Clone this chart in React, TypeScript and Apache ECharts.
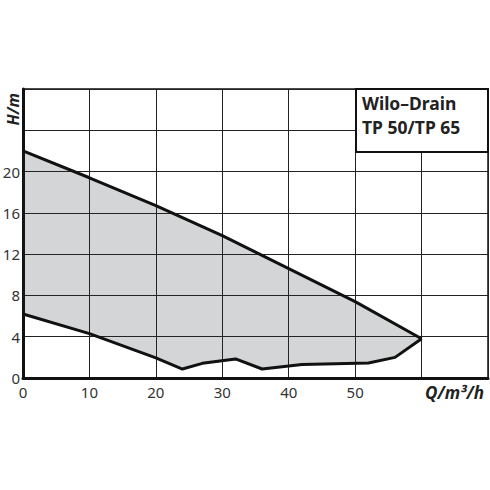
import React, { useEffect, useRef } from "react";
import * as echarts from "echarts";

const upperQ = [0, 10, 20, 30, 40, 50, 60];
const upperH = [22, 19.4, 16.7, 13.8, 10.6, 7.4, 3.8];
const lowerQ = [0, 10, 20, 24, 27, 32, 36, 42, 52, 56, 60];
const lowerH = [6.2, 4.3, 1.95, 0.87, 1.42, 1.85, 0.87, 1.3, 1.45, 2.0, 3.8];
const xTicks = [0, 10, 20, 30, 40, 50];
const yTicks = [0, 4, 8, 12, 16, 20];
const titleLines = ["Wilo–Drain", "TP 50/TP 65"];

const FONT = "Noto Sans";

export default function App() {
  const ref = useRef<HTMLDivElement>(null);
  useEffect(() => {
    if (!ref.current) return;
    const chart = echarts.init(ref.current, null, { renderer: "svg" });
    const upper = upperQ.map((q, i) => [q, upperH[i]]);
    const lower = lowerQ.map((q, i) => [q, lowerH[i]]);
    const polygon = upper.concat(lower.slice().reverse());
    chart.setOption({
      animation: false,
      grid: {
        left: 23,
        right: 2,
        top: 89,
        bottom: 112,
        show: true,
        borderColor: "#111",
        borderWidth: 1.5,
        containLabel: false,
        outerBoundsMode: "none",
      },
      xAxis: {
        type: "value",
        min: 0,
        max: 70,
        interval: 10,
        name: "Q/m³/h",
        nameLocation: "end",
        nameGap: 0,
        nameTextStyle: {
          fontFamily: FONT,
          fontWeight: "bold",
          fontStyle: "italic",
          fontSize: 17,
          color: "#222",
          align: "right",
          verticalAlign: "top",
          padding: [6, 4, 0, 0],
        },
        axisLine: { show: true, lineStyle: { color: "#111", width: 3 } },
        axisTick: { show: false },
        splitLine: { show: true, lineStyle: { color: "#222", width: 1 } },
        axisLabel: {
          fontFamily: FONT,
          fontSize: 15,
          color: "#333",
          margin: 6,
          formatter: (v: number) => (xTicks.includes(v) ? String(v) : ""),
        },
      },
      yAxis: {
        type: "value",
        min: 0,
        max: 28,
        interval: 4,
        name: "H/m",
        nameLocation: "end",
        nameRotate: 90,
        nameGap: 0,
        nameTextStyle: {
          fontFamily: FONT,
          fontWeight: "bold",
          fontStyle: "italic",
          fontSize: 16,
          color: "#222",
          align: "right",
          verticalAlign: "bottom",
          padding: [0, 4, 2, 0],
        },
        axisLine: { show: true, lineStyle: { color: "#111", width: 3 } },
        axisTick: { show: false },
        splitLine: { show: true, lineStyle: { color: "#222", width: 1 } },
        axisLabel: {
          fontFamily: FONT,
          fontSize: 15,
          color: "#333",
          margin: 3,
          formatter: (v: number) => (yTicks.includes(v) ? String(v) : ""),
        },
      },
      series: [
        {
          type: "custom",
          silent: true,
          z: 1,
          data: [0],
          renderItem: (params: any, api: any) => ({
            type: "polygon",
            shape: { points: polygon.map((p) => api.coord(p)) },
            style: { fill: "rgba(40,44,52,0.2)", stroke: "none" },
          }),
        },
        {
          type: "line",
          data: upper,
          symbol: "none",
          z: 3,
          lineStyle: { color: "#111", width: 3 },
        },
        {
          type: "line",
          data: lower,
          symbol: "none",
          z: 3,
          lineStyle: { color: "#111", width: 3 },
        },
      ],
      graphic: [
        {
          type: "rect",
          z: 100,
          shape: { x: 356, y: 89, width: 132, height: 63 },
          style: { fill: "#fff", stroke: "#111", lineWidth: 2 },
        },
        {
          type: "text",
          z: 101,
          x: 362,
          y: 91,
          style: {
            text: titleLines.join("\n"),
            fontFamily: FONT,
            fontWeight: "bold",
            fontSize: 17.5,
            lineHeight: 24,
            fill: "#222",
          },
        },
      ],
    });
    return () => chart.dispose();
  }, []);
  return (
    <div
      ref={ref}
      style={{ position: "fixed", left: 0, top: 0, width: 490, height: 490, background: "#fff" }}
    />
  );
}
